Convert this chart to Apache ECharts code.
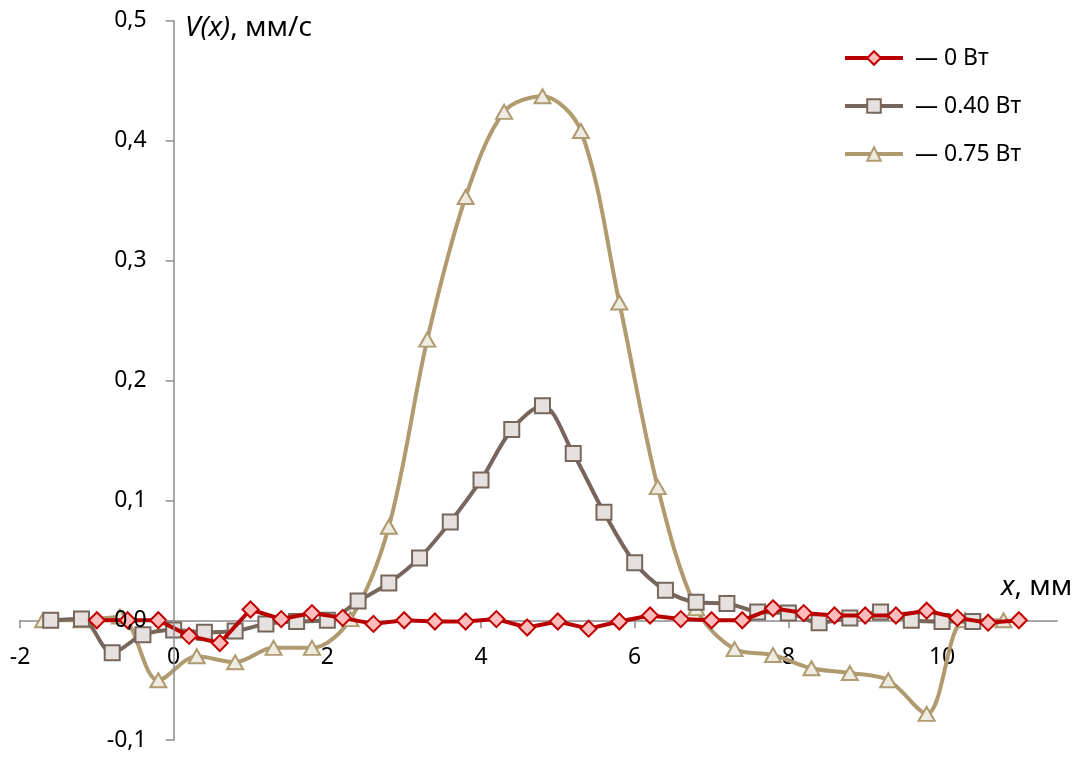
<!DOCTYPE html>
<html>
<head>
<meta charset="utf-8">
<script src="https://cdn.jsdelivr.net/npm/echarts@6/dist/echarts.min.js"></script>
<style>
  html, body { margin: 0; padding: 0; background: #ffffff; }
  #chart { width: 1087px; height: 761px; }
</style>
</head>
<body>
<div id="chart"></div>
<script>
// Axis ticks
const xTickValues = [-2, 0, 2, 4, 6, 8, 10];
const yTickValues = [-0.1, 0, 0.1, 0.2, 0.3, 0.4, 0.5];

// Series names
const seriesNames = ['0 Вт', '0.40 Вт', '0.75 Вт'];

// 0 W: positions, mm, and velocities, mm/s
const x0W = [-1.0, -0.6, -0.2, 0.2, 0.6, 1.0, 1.4, 1.8, 2.2, 2.6, 3.0, 3.4, 3.8, 4.2, 4.6, 5.0,
             5.4, 5.8, 6.2, 6.6, 7.0, 7.4, 7.8, 8.2, 8.6, 9.0, 9.4, 9.8, 10.2, 10.6, 11.0];
const v0W = [0.000, 0.000, 0.000, -0.013, -0.019, 0.009, 0.001, 0.006, 0.002, -0.003, 0.000, -0.001,
             -0.001, 0.001, -0.006, -0.001, -0.007, -0.001, 0.004, 0.001, 0.000, 0.000, 0.010, 0.006,
             0.004, 0.004, 0.004, 0.008, 0.002, -0.002, 0.000];

// 0.40 W
const x040W = [-1.6, -1.2, -0.8, -0.4, 0.0, 0.4, 0.8, 1.2, 1.6, 2.0, 2.4, 2.8, 3.2, 3.6, 4.0, 4.4,
               4.8, 5.2, 5.6, 6.0, 6.4, 6.8, 7.2, 7.6, 8.0, 8.4, 8.8, 9.2, 9.6, 10.0, 10.4];
const v040W = [0.000, 0.001, -0.027, -0.012, -0.008, -0.010, -0.009, -0.003, -0.001, 0.000, 0.016,
               0.031, 0.052, 0.082, 0.117, 0.159, 0.179, 0.139, 0.090, 0.048, 0.025, 0.015, 0.014,
               0.007, 0.006, -0.002, 0.002, 0.007, 0.000, -0.001, -0.001];

// 0.75 W
const x075W = [-1.7, -1.2, -0.7, -0.2, 0.3, 0.8, 1.3, 1.8, 2.3, 2.8, 3.3, 3.8, 4.3, 4.8, 5.3, 5.8,
               6.3, 6.8, 7.3, 7.8, 8.3, 8.8, 9.3, 9.8, 10.3, 10.8];
const v075W = [0.000, 0.000, 0.003, -0.050, -0.030, -0.035, -0.023, -0.023, 0.001, 0.078, 0.234,
               0.353, 0.424, 0.437, 0.408, 0.265, 0.111, 0.010, -0.024, -0.029, -0.040, -0.044,
               -0.050, -0.078, 0.000, 0.000];

const zip = (xs, ys) => xs.map((x, i) => [x, ys[i]]);

const FONT = '"Noto Sans", "DejaVu Sans", sans-serif';
const AXIS_COLOR = '#8c8c8c';
const TITLE_SIZE = 28;

// Plot area and axis ranges
const GRID = { left: 20, top: 20.7, width: 1037.3, height: 719.5 };
const X_MIN = -2, X_MAX = 11.5, Y_MIN = -0.1, Y_MAX = 0.5;

// Both axes cross at zero: shift each from its grid edge to the zero line of the other,
// so that ticks and labels move with the line.
const xAxisShift = -((0 - Y_MIN) / (Y_MAX - Y_MIN)) * GRID.height;
const yAxisShift = -((0 - X_MIN) / (X_MAX - X_MIN)) * GRID.width;

const titleStyle = text => ({
  text,
  fill: '#000',
  font: TITLE_SIZE + 'px ' + FONT,
  rich: {
    i: { fontStyle: 'italic', fontSize: TITLE_SIZE, fontFamily: FONT, fill: '#000' },
    n: { fontSize: TITLE_SIZE, fontFamily: FONT, fill: '#000' }
  }
});

const chart = echarts.init(document.getElementById('chart'), null, { renderer: 'canvas' });

chart.setOption({
  animation: false,
  backgroundColor: '#ffffff',
  textStyle: { fontFamily: FONT },
  grid: Object.assign({ containLabel: false, outerBoundsMode: 'none' }, GRID),
  xAxis: {
    type: 'value',
    min: X_MIN,
    max: X_MAX,
    interval: 2,
    position: 'bottom',
    offset: xAxisShift,
    axisLine: { onZero: false, lineStyle: { color: AXIS_COLOR, width: 1.5 } },
    axisTick: { show: true, inside: false, length: 8, customValues: xTickValues,
                lineStyle: { color: AXIS_COLOR, width: 1.5 } },
    axisLabel: { customValues: xTickValues, margin: 26,
                 fontSize: 23, lineHeight: 23, color: '#000', fontFamily: FONT },
    splitLine: { show: false }
  },
  yAxis: {
    type: 'value',
    min: Y_MIN,
    max: Y_MAX,
    interval: 0.1,
    position: 'left',
    offset: yAxisShift,
    z: 5,
    axisLine: { show: true, onZero: false, lineStyle: { color: AXIS_COLOR, width: 1.5 } },
    axisTick: { show: true, inside: false, length: 8, lineStyle: { color: AXIS_COLOR, width: 1.5 } },
    axisLabel: {
      margin: 27, fontSize: 23, color: '#000', fontFamily: FONT,
      formatter: v => (Math.round(v * 10) / 10).toFixed(1).replace('.', ',')
    },
    splitLine: { show: false }
  },
  legend: {
    orient: 'vertical',
    left: 843,
    top: 46,
    padding: 0,
    itemWidth: 58,
    itemHeight: 17,
    itemGap: 24,
    data: seriesNames,
    lineStyle: { width: 4 },
    formatter: name => '— ' + name,
    textStyle: { fontSize: 23, lineHeight: 24, color: '#000', fontFamily: FONT, padding: [0, 0, 0, 7] }
  },
  graphic: [
    { type: 'text', left: 185, top: 14, style: titleStyle('{i|V(x)}{n|, мм/с}') },
    { type: 'text', left: 1001, top: 573, style: titleStyle('{i|x}{n|, мм}') }
  ],
  series: [
    {
      name: seriesNames[0],
      type: 'line',
      data: zip(x0W, v0W),
      smooth: false,
      symbol: 'diamond',
      symbolSize: 16,
      z: 4,
      lineStyle: { color: '#b80000', width: 4 },
      itemStyle: { color: '#ffbcbc', borderColor: '#c00000', borderWidth: 2 }
    },
    {
      name: seriesNames[1],
      type: 'line',
      data: zip(x040W, v040W),
      smooth: 0.33,
      symbol: 'rect',
      symbolSize: 15,
      z: 3,
      lineStyle: { color: '#76665c', width: 4 },
      itemStyle: { color: '#e6e1de', borderColor: '#76665c', borderWidth: 2 }
    },
    {
      name: seriesNames[2],
      type: 'line',
      data: zip(x075W, v075W),
      smooth: 0.33,
      symbol: 'triangle',
      symbolSize: [16, 14],
      z: 2,
      lineStyle: { color: '#b09a70', width: 4 },
      itemStyle: { color: '#eeebe1', borderColor: '#b09a70', borderWidth: 2 }
    }
  ]
});
</script>
</body>
</html>
